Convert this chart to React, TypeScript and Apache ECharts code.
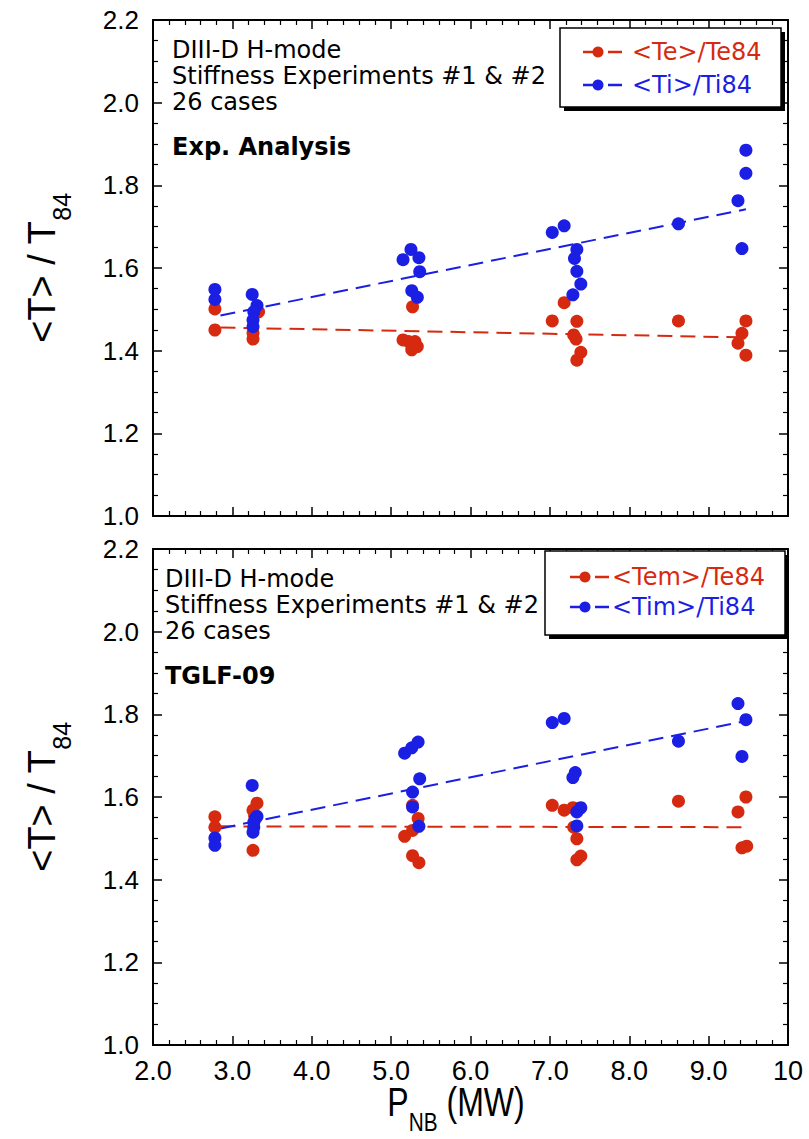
import React, { useEffect, useRef } from 'react';
import * as echarts from 'echarts';

const RED = '#d62a10';
const BLUE = '#1b1fe3';
const FONT = 'DejaVu Sans';
const TICK_FONT = 'Liberation Sans';

const X_TICK_LABELS = ['2.0', '3.0', '4.0', '5.0', '6.0', '7.0', '8.0', '9.0', '10'];
const Y_TICK_LABELS = ['1.0', '1.2', '1.4', '1.6', '1.8', '2.0', '2.2'];

const TOP_NAMES = ['<Te>/Te84', '<Ti>/Ti84'];
const BOTTOM_NAMES = ['<Tem>/Te84', '<Tim>/Ti84'];
const NOTE_LINES = ['DIII-D H-mode', 'Stiffness Experiments #1 & #2', '26 cases'];
const PANEL_TITLES = ['Exp. Analysis', 'TGLF-09'];
const Y_NAME = ['<T> / T', '84'];
const X_NAME = ['P', 'NB', ' (MW)'];

// Top panel (experimental analysis)
const TOP_TE = [
  [2.78, 1.501], [2.78, 1.45],
  [3.33, 1.494], [3.26, 1.443], [3.26, 1.428],
  [5.27, 1.506], [5.15, 1.426], [5.22, 1.422], [5.3, 1.422], [5.26, 1.402], [5.33, 1.41],
  [7.18, 1.516], [7.03, 1.472], [7.34, 1.471], [7.3, 1.438], [7.33, 1.428], [7.39, 1.396], [7.34, 1.377],
  [8.62, 1.472],
  [9.47, 1.472], [9.42, 1.442], [9.37, 1.418], [9.47, 1.389],
];
const TOP_TI = [
  [2.78, 1.548], [2.78, 1.524],
  [3.25, 1.536], [3.31, 1.509], [3.27, 1.494], [3.26, 1.474], [3.26, 1.458],
  [5.15, 1.62], [5.25, 1.645], [5.35, 1.625], [5.36, 1.591], [5.26, 1.545], [5.33, 1.529],
  [7.03, 1.686], [7.18, 1.702], [7.34, 1.645], [7.31, 1.623], [7.34, 1.592], [7.39, 1.561], [7.29, 1.535],
  [8.62, 1.707],
  [9.47, 1.885], [9.47, 1.829], [9.37, 1.763], [9.42, 1.647],
];
const TOP_TE_FIT = [[2.85, 1.456], [9.47, 1.432]];
const TOP_TI_FIT = [[2.85, 1.485], [9.47, 1.742]];

// Bottom panel (TGLF-09)
const BOT_TE = [
  [2.78, 1.552], [2.78, 1.527],
  [3.31, 1.585], [3.26, 1.568], [3.28, 1.555], [3.26, 1.471],
  [5.27, 1.58], [5.34, 1.548], [5.27, 1.519], [5.17, 1.505], [5.27, 1.458], [5.35, 1.441],
  [7.03, 1.58], [7.18, 1.568], [7.29, 1.574], [7.3, 1.527], [7.34, 1.499], [7.39, 1.457], [7.34, 1.448],
  [8.62, 1.59],
  [9.47, 1.6], [9.37, 1.564], [9.42, 1.477], [9.48, 1.481],
];
const BOT_TI = [
  [2.78, 1.501], [2.78, 1.483],
  [3.25, 1.628], [3.31, 1.553], [3.29, 1.548], [3.27, 1.539], [3.27, 1.527], [3.26, 1.515],
  [5.17, 1.706], [5.26, 1.719], [5.34, 1.733], [5.36, 1.644], [5.27, 1.612], [5.27, 1.576], [5.35, 1.529],
  [7.03, 1.78], [7.18, 1.79], [7.32, 1.659], [7.29, 1.647], [7.39, 1.574], [7.34, 1.564], [7.34, 1.53],
  [8.62, 1.735],
  [9.37, 1.826], [9.47, 1.787], [9.42, 1.698],
];
const BOT_TE_FIT = [[2.85, 1.529], [9.47, 1.527]];
const BOT_TI_FIT = [[2.85, 1.524], [9.47, 1.784]];

const GRIDS = [
  { left: 153, top: 20, width: 635, height: 496 },
  { left: 153, top: 549, width: 635, height: 496 },
];

function makeX(gridIndex: number, position: string, showLabel: boolean) {
  return {
    type: 'value', gridIndex, position, min: 2, max: 10, interval: 1,
    axisLine: { show: true, onZero: false, lineStyle: { color: '#000', width: 2 } },
    axisTick: { show: true, inside: true, length: 9, lineStyle: { color: '#000', width: 1.5 } },
    minorTick: { show: true, splitNumber: 5, length: 5, lineStyle: { color: '#000', width: 1.2 } },
    splitLine: { show: false },
    axisLabel: {
      show: showLabel, margin: 12, color: '#000', fontFamily: TICK_FONT, fontSize: 27,
      formatter: (v: number) => X_TICK_LABELS[Math.round(v - 2)],
    },
  };
}
function makeY(gridIndex: number, position: string, showLabel: boolean) {
  return {
    type: 'value', gridIndex, position, min: 1, max: 2.2, interval: 0.2,
    axisLine: { show: true, onZero: false, lineStyle: { color: '#000', width: 2 } },
    axisTick: { show: true, inside: true, length: 9, lineStyle: { color: '#000', width: 1.5 } },
    minorTick: { show: true, splitNumber: 4, length: 5, lineStyle: { color: '#000', width: 1.2 } },
    splitLine: { show: false },
    axisLabel: {
      show: showLabel, margin: 14, color: '#000', fontFamily: TICK_FONT, fontSize: 26,
      formatter: (v: number) => Y_TICK_LABELS[Math.round((v - 1) / 0.2)],
    },
  };
}

function scatter(name: string, data: number[][], color: string, axis: number) {
  return {
    type: 'scatter', name, data, xAxisIndex: axis, yAxisIndex: axis,
    symbol: 'circle', symbolSize: 13, itemStyle: { color, opacity: 1 }, z: 3, silent: true,
  };
}
function fit(data: number[][], color: string, axis: number) {
  return {
    type: 'line', data, xAxisIndex: axis, yAxisIndex: axis, symbol: 'none', showSymbol: false,
    lineStyle: { color, width: 2, type: [15, 8] }, z: 2, silent: true,
  };
}

function legendBox(x: number, y: number, w: number, h: number, names: string[], rows: number[], markX: number, textX: number) {
  const colors = [RED, BLUE];
  const els: any[] = [
    { type: 'rect', shape: { x: x + 4, y: y + 4, width: w, height: h }, style: { fill: '#000' }, z: 100 },
    { type: 'rect', shape: { x, y, width: w, height: h }, style: { fill: '#fff', stroke: '#000', lineWidth: 1.5 }, z: 101 },
  ];
  names.forEach((n, i) => {
    const c = colors[i];
    const ry = rows[i];
    els.push({ type: 'line', shape: { x1: markX, y1: ry, x2: markX + 15, y2: ry }, style: { stroke: c, lineWidth: 2.5 }, z: 102 });
    els.push({ type: 'circle', shape: { cx: markX + 15, cy: ry, r: 5.5 }, style: { fill: c }, z: 103 });
    els.push({ type: 'line', shape: { x1: markX + 25, y1: ry, x2: markX + 39, y2: ry }, style: { stroke: c, lineWidth: 2.5 }, z: 102 });
    els.push({
      type: 'text', x: textX, y: ry, z: 103,
      style: { text: n, fill: c, fontFamily: FONT, fontSize: 24, align: 'left', verticalAlign: 'middle' },
    });
  });
  return els;
}

function notes(x: number, top: number, title: string) {
  const offs = [30, 56, 82];
  const els: any[] = NOTE_LINES.map((t, i) => ({
    type: 'text', x, y: top + offs[i], z: 50,
    style: { text: t, fill: '#000', fontFamily: FONT, fontSize: 24, align: 'left', verticalAlign: 'middle' },
  }));
  els.push({
    type: 'text', x, y: top + 127, z: 50,
    style: { text: title, fill: '#000', fontFamily: FONT, fontSize: 24, fontWeight: 'bold', align: 'left', verticalAlign: 'middle' },
  });
  return els;
}

function yName(cy: number) {
  return {
    type: 'text', x: 42, y: cy, rotation: Math.PI / 2, z: 50,
    style: {
      text: `{m|${Y_NAME[0]}}{s|${Y_NAME[1]}}`,
      align: 'center', verticalAlign: 'middle', fill: '#000',
      rich: {
        m: { fontFamily: TICK_FONT, fontSize: 38, lineHeight: 64, verticalAlign: 'middle', fill: '#000' },
        s: { fontFamily: TICK_FONT, fontSize: 25, lineHeight: 26, verticalAlign: 'bottom', fill: '#000' },
      },
    },
  };
}

export default function App() {
  const ref = useRef<HTMLDivElement>(null);
  useEffect(() => {
    if (!ref.current) return;
    const chart = echarts.init(ref.current, undefined, { renderer: 'svg' });
    const option: any = {
      animation: false,
      backgroundColor: '#fff',
      grid: GRIDS,
      xAxis: [makeX(0, 'bottom', false), makeX(0, 'top', false), makeX(1, 'bottom', true), makeX(1, 'top', false)],
      yAxis: [makeY(0, 'left', true), makeY(0, 'right', false), makeY(1, 'left', true), makeY(1, 'right', false)],
      series: [
        fit(TOP_TE_FIT, RED, 0), fit(TOP_TI_FIT, BLUE, 0),
        scatter(TOP_NAMES[0], TOP_TE, RED, 0), scatter(TOP_NAMES[1], TOP_TI, BLUE, 0),
        fit(BOT_TE_FIT, RED, 2), fit(BOT_TI_FIT, BLUE, 2),
        scatter(BOTTOM_NAMES[0], BOT_TE, RED, 2), scatter(BOTTOM_NAMES[1], BOT_TI, BLUE, 2),
      ],
      graphic: [
        ...notes(172, 20, PANEL_TITLES[0]),
        ...notes(165, 549, PANEL_TITLES[1]),
        ...legendBox(560, 28, 221, 79, TOP_NAMES, [52, 85], 583, 632),
        ...legendBox(545, 551, 240, 84, BOTTOM_NAMES, [577, 607], 570, 612),
        yName(268),
        yName(797),
        {
          type: 'text', x: 456, y: 1102, z: 50, scaleX: 0.8,
          style: {
            text: `{m|${X_NAME[0]}}{s|${X_NAME[1]}}{m|${X_NAME[2]}}`,
            align: 'center', verticalAlign: 'middle', fill: '#000',
            rich: {
              m: { fontFamily: TICK_FONT, fontSize: 40, lineHeight: 66, verticalAlign: 'middle', fill: '#000' },
              s: { fontFamily: TICK_FONT, fontSize: 26, lineHeight: 26, verticalAlign: 'bottom', fill: '#000' },
            },
          },
        },
      ],
    };
    chart.setOption(option);
    return () => chart.dispose();
  }, []);
  return <div ref={ref} style={{ position: 'absolute', left: 0, top: 0, width: 809, height: 1139, background: '#fff' }} />;
}
